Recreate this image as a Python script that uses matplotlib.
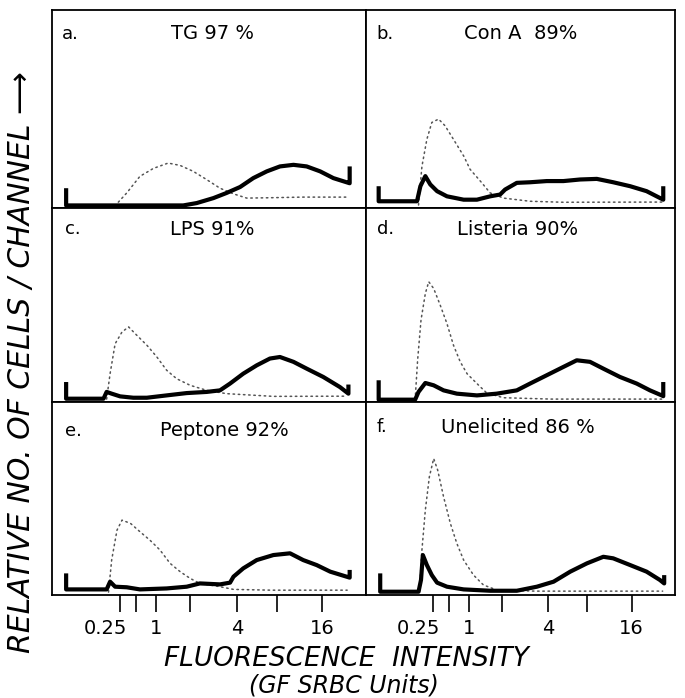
import matplotlib
matplotlib.use("Agg")
import matplotlib.pyplot as plt
import matplotlib.transforms as mtransforms

plt.rcParams['font.family'] = ['DejaVu Sans']

# x = channel position (% of range), y = relative cells/channel (% of panel height)
tg_x = [4.5, 4.5, 41.8, 46.1, 51.4, 55.6, 59.9, 64.1, 68.4, 72.6, 76.9, 81.1, 85.4, 89.6, 93.8, 94.8, 94.8]
tg_y = [10, 1.3, 1.3, 2.5, 5, 7.6, 10.6, 15.1, 18.5, 21, 21.8, 21, 18.5, 15.1, 13, 12.5, 21]
tg_ctrl_x = [20, 23.8, 28, 32.3, 37, 40.8, 45, 49.3, 53.5, 57.7, 62, 70, 80, 94]
tg_ctrl_y = [1, 7.6, 16, 20, 22.7, 21.5, 18.5, 14.3, 10, 7.2, 5, 5.2, 5.5, 5.5]

cona_x = [4.1, 4.1, 16.5, 17.6, 19.2, 20.8, 23, 26.2, 31.6, 35.9, 40.2, 43.4, 45, 48.8, 53.1, 58.5,
          63.9, 69.3, 74.7, 80, 85.5, 90.8, 96.2, 96.2]
cona_y = [11, 3.4, 3.4, 11, 16.1, 11.9, 8.5, 5.9, 4.2, 4.2, 5.9, 6.8, 9.3, 12.7, 13, 13.6,
          13.6, 14.4, 14.7, 13, 11, 8.5, 4.2, 11]
cona_ctrl_x = [17, 18.1, 19.7, 21.3, 23.5, 25.6, 28.3, 31.6, 33.7, 37, 40.2, 44.5, 53.1, 63.9, 96]
cona_ctrl_y = [1.5, 21, 34.7, 43.2, 44.9, 41.5, 34.7, 26.3, 19.5, 13.6, 7.6, 5, 3.4, 2.9, 3]

lps_x = [4.5, 4.5, 16.4, 17.4, 19, 21.7, 25.9, 30.2, 36.5, 42.9, 49.3, 53.5, 56.7, 60.9, 65.2,
         69.4, 72.6, 76.9, 81.1, 86.4, 91.7, 94.4, 94.4]
lps_y = [10.3, 1.7, 1.7, 5.2, 4.3, 2.9, 2.2, 2.2, 3.4, 4.6, 5.2, 6, 9.5, 14.6, 18.9,
         22.4, 23.2, 20.7, 17.2, 12.9, 7.7, 4.3, 9]
lps_ctrl_x = [17.4, 18.5, 20.1, 22.3, 24.4, 27, 30.2, 33.4, 36.5, 39.7, 44, 49.3, 55.6, 70.5, 94]
lps_ctrl_y = [1.5, 14.6, 30, 36.1, 38.7, 34.4, 29.3, 23.2, 16.4, 12, 8.6, 6, 4.3, 2.9, 3]

lis_x = [4.1, 4.1, 15.9, 17, 19.2, 21.9, 25.1, 29.4, 35.9, 42.3, 48.8, 53.1, 58.5, 63.9, 68.2,
         72.5, 76.8, 82.2, 87.6, 91.9, 95.7, 96.2, 96.2]
lis_y = [11.2, 1.2, 1.2, 5.2, 9.8, 8.6, 6, 4.3, 3.4, 4.3, 6, 9.5, 13.8, 18.1, 21.5,
         20.7, 17.2, 12.9, 9.5, 6, 3.4, 3, 10.3]
lis_ctrl_x = [15.9, 16.7, 17.8, 19.2, 20.3, 21.9, 24, 26.2, 28.3, 30.5, 32.7, 35.9, 39.1, 44.5, 60, 96]
lis_ctrl_y = [1.2, 21.5, 42.2, 55.9, 62, 58.5, 50, 40.4, 29.3, 20.7, 14.6, 9.5, 4.6, 2.2, 1.5, 1.5]

pep_x = [4.5, 4.5, 17.4, 18.5, 20.1, 23.8, 28, 36.5, 42.9, 47.1, 53.5, 56.7, 57.8, 60.9, 65.2,
         70.5, 75.8, 80, 84.3, 88.6, 93.8, 94.8, 94.8]
pep_y = [11.2, 2.9, 2.9, 6.9, 4.3, 4, 2.9, 3.4, 4.3, 6, 5.5, 6.4, 9.5, 13.8, 18.1,
         20.7, 21.6, 18.1, 15.5, 12.1, 9.5, 9, 13]
pep_ctrl_x = [18, 19, 20.7, 22.3, 25, 28, 31.2, 34.4, 37.6, 40.8, 44, 47.1, 53.5, 57.8, 70, 94]
pep_ctrl_y = [1.5, 18.1, 33.6, 38.8, 37.1, 32.8, 28.4, 23.3, 16.4, 12.1, 8.6, 6, 4.3, 2.9, 2.5, 2.5]

une_x = [4.6, 4.6, 17, 17.8, 18.4, 19.7, 21.3, 23, 26.2, 31.6, 40.2, 48.8, 55.3, 60.7, 66.1,
         71.5, 76.8, 80, 85.5, 90.8, 95.1, 96.5, 96.5]
une_y = [11.2, 1.7, 1.7, 7.8, 20.7, 15.5, 10.3, 6.4, 4.3, 2.9, 2.2, 2.2, 4.3, 6.9, 12.1,
         16.4, 19.8, 19, 15.5, 12.1, 7.8, 6, 10.3]
une_ctrl_x = [17.3, 18.1, 19.2, 20.5, 21.9, 23.2, 25.1, 27.3, 29.4, 31.6, 34.8, 38, 42.3, 55, 96]
une_ctrl_y = [1.7, 23.3, 44, 61.2, 70.7, 64.7, 50.9, 37.1, 26.7, 18.1, 10.3, 5.2, 2.6, 2, 2]

letters = ['a.', 'b.', 'c.', 'd.', 'e.', 'f.']
titles = ['TG 97 %', 'Con A  89%', 'LPS 91%', 'Listeria 90%', 'Peptone 92%', 'Unelicited 86 %']

# log-amplifier channel positions of the scale marks
tick_pos = [21.8, 26.9, 33.2, 43.9, 59.0, 71.6, 86.0]
tick_labels = ['0.25', '', '1', '', '4', '', '16']

panels = [
    (tg_x, tg_y, tg_ctrl_x, tg_ctrl_y),
    (cona_x, cona_y, cona_ctrl_x, cona_ctrl_y),
    (lps_x, lps_y, lps_ctrl_x, lps_ctrl_y),
    (lis_x, lis_y, lis_ctrl_x, lis_ctrl_y),
    (pep_x, pep_y, pep_ctrl_x, pep_ctrl_y),
    (une_x, une_y, une_ctrl_x, une_ctrl_y),
]

W, H = 685, 698
fig = plt.figure(figsize=(W / 100, H / 100), dpi=100)

cols = [(52, 366), (366, 675)]
rows = [(10, 208), (208, 402), (402, 595)]
title_pos = [(0.51, 0.88), (0.50, 0.88), (0.51, 0.89), (0.49, 0.89), (0.55, 0.85), (0.49, 0.87)]
letter_pos = [(0.03, 0.88), (0.035, 0.88), (0.04, 0.89), (0.035, 0.89), (0.04, 0.85), (0.035, 0.87)]

for i, (hx, hy, cx, cy) in enumerate(panels):
    r, c = divmod(i, 2)
    x0, x1 = cols[c]
    y0, y1 = rows[r]
    ax = fig.add_axes([x0 / W, 1 - y1 / H, (x1 - x0) / W, (y1 - y0) / H])
    ax.set_xlim(0, 100)
    ax.set_ylim(0, 100)

    # control (light dotted) and test (heavy) traces
    ax.plot(cx, cy, color='#555555', lw=1.1, linestyle=(0, (1, 2.4)),
            dash_capstyle='round')
    ax.plot(hx, hy, color='black', lw=3.0, solid_joinstyle='round',
            solid_capstyle='butt')

    ax.text(*letter_pos[i], letters[i], transform=ax.transAxes, fontsize=13,
            ha='left', va='center')
    ax.text(*title_pos[i], titles[i], transform=ax.transAxes, fontsize=14,
            ha='center', va='center')

    for sp in ax.spines.values():
        sp.set_linewidth(1.3)

    ax.set_yticks([])
    if r == 2:
        ax.set_xticks(tick_pos)
        ax.set_xticklabels(tick_labels, fontsize=14)
        ax.tick_params(axis='x', direction='out', length=12, width=1.2, pad=5)
        # the 0.25 label sits slightly left of its mark
        lab = ax.get_xticklabels()[0]
        lab.set_transform(lab.get_transform() +
                          mtransforms.ScaledTranslation(-15 / 100, 0, fig.dpi_scale_trans))
    else:
        ax.set_xticks([])

fig.text(346 / W, 1 - 659 / H, 'FLUORESCENCE  INTENSITY', fontsize=19, style='italic',
         ha='center', va='center')
fig.text(344 / W, 1 - 686 / H, '(GF SRBC Units)', fontsize=17, style='italic',
         ha='center', va='center')
fig.text(22 / W, 1 - 362 / H, 'RELATIVE NO. OF CELLS / CHANNEL \u27f6', fontsize=21.5,
         style='italic', rotation=90, ha='center', va='center')

fig.savefig('out.png', dpi=100)
